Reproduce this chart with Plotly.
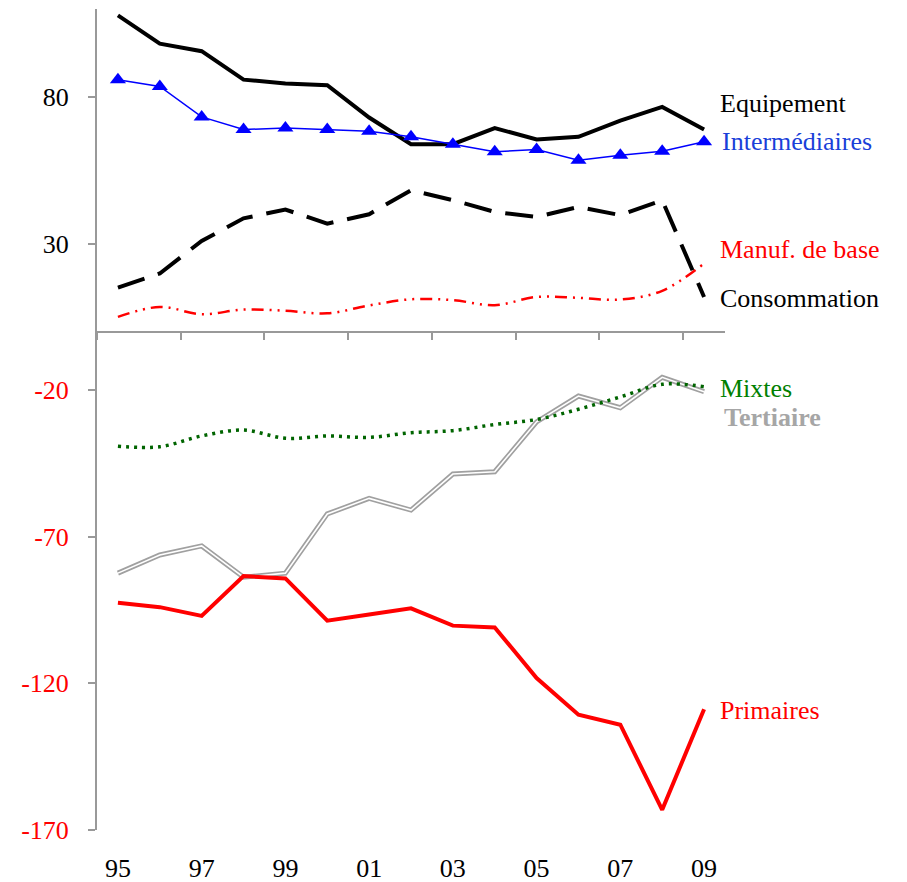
import plotly.graph_objects as go

years = list(range(1995, 2010))
year_labels = ["95", "97", "99", "01", "03", "05", "07", "09"]

equipement = [107.8, 98.2, 95.6, 85.9, 84.6, 84.0, 73.0, 63.9, 63.9, 69.4, 65.5, 66.4, 71.9, 76.6, 68.9]
intermediaires = [85.9, 83.6, 73.2, 68.9, 69.4, 68.9, 68.3, 66.4, 63.9, 61.3, 62.1, 58.4, 60.1, 61.5, 64.7]
consommation = [15.0, 19.8, 30.9, 38.6, 41.6, 36.8, 40.0, 48.2, 44.8, 40.8, 39.1, 42.5, 39.7, 44.8, 11.8]
manuf_base = [5.0, 8.4, 5.9, 7.5, 7.1, 6.2, 8.9, 11.0, 10.7, 9.0, 11.8, 11.5, 10.9, 13.9, 23.2]
mixtes = [-39.1, -39.3, -35.6, -33.6, -36.4, -35.6, -36.1, -34.5, -33.8, -31.7, -30.0, -26.5, -22.3, -18.0, -18.8]
tertiaire = [-82.4, -76.2, -73.1, -83.8, -82.4, -62.2, -56.9, -60.9, -48.6, -47.8, -30.8, -22.0, -26.0, -15.6, -20.5]
primaires = [-92.5, -94.0, -97.0, -83.4, -84.2, -98.6, -96.5, -94.4, -100.3, -100.9, -118.2, -130.7, -134.1, -163.1, -128.8]

y_ticks = [80, 30, -20, -70, -120, -170]
y_tick_colors = ["black", "black", "red", "red", "red", "red"]

Y_MIN, Y_MAX = -170, 110
FONT = "Liberation Serif, Times New Roman, serif"

W, H = 907, 882
# plot area in page pixels
L, R, T, B = 97, 725, 9, 830

fig = go.Figure()

def add_line(y, color, width, dash="solid", shape="linear"):
    fig.add_trace(go.Scatter(x=years, y=y, mode="lines", line=dict(color=color, width=width, dash=dash, shape=shape),
                             hoverinfo="skip", showlegend=False))

# tertiaire: double line (gray then white on top)
add_line(tertiaire, "#a0a0a0", 5)
add_line(tertiaire, "white", 1.6)
add_line(primaires, "#ff0000", 4)
add_line(mixtes, "#006400", 3.5, dash="3px,5px", shape="spline")
add_line(manuf_base, "#ff0000", 2.5, dash="12px,6px,2px,6px,2px,6px", shape="spline")
add_line(consommation, "black", 4, dash="28px,14px")
add_line(equipement, "black", 4)
fig.add_trace(go.Scatter(x=years, y=intermediaires, mode="lines+markers",
                         line=dict(color="#0000ff", width=1.5),
                         marker=dict(symbol="triangle-up", size=14, color="#0000ff"),
                         hoverinfo="skip", showlegend=False))

# invisible trace so the zero-line axis is drawn
fig.add_trace(go.Scatter(x=[years[0]], y=[0], xaxis="x2", mode="markers", marker=dict(opacity=0),
                         hoverinfo="skip", showlegend=False))

labels = [
    ("Equipement", 718, 104, "black"),
    ("Intermédiaires", 720, 141, "#1a3fd9"),
    ("Manuf. de base", 718, 250, "#ff0000"),
    ("Consommation", 718, 298, "black"),
    ("Mixtes", 718, 388, "#008000"),
    ("<b>Tertiaire</b>", 722, 417, "#a6a6a6"),
    ("Primaires", 718, 710, "#ff0000"),
]
for text, xpix, ypix, color in labels:
    fig.add_annotation(x=(xpix - L) / (R - L), y=(B - ypix) / (B - T), xref="x domain", yref="y domain",
                       text=text, showarrow=False, xanchor="left", yanchor="middle",
                       font=dict(family=FONT, size=26, color=color))

fig.update_layout(
    width=W, height=H,
    margin=dict(l=L, r=W - R, t=T, b=H - B, autoexpand=False),
    plot_bgcolor="white", paper_bgcolor="white",
    font=dict(family=FONT, size=26, color="black"),
    xaxis=dict(range=[1994.5, 2009.5], tickmode="array", tickvals=years[::2], ticktext=year_labels,
               showline=False, showgrid=False, zeroline=False, ticks="", ticklabelstandoff=20,
               tickfont=dict(size=26, color="black"), automargin=False),
    xaxis2=dict(range=[1994.5, 2009.5], overlaying="x", anchor="free",
                position=(0 - Y_MIN) / (Y_MAX - Y_MIN), side="bottom",
                showline=True, linecolor="#999999", linewidth=2,
                tickmode="array", tickvals=[1994.5 + 2 * i for i in range(8)], ticks="outside",
                ticklen=7, tickwidth=2, tickcolor="#999999", showticklabels=False, showgrid=False,
                zeroline=False, automargin=False),
    yaxis=dict(range=[Y_MIN, Y_MAX], tickmode="array", tickvals=y_ticks,
               ticktext=[f"<span style='color:{c}'>{v}</span>" for v, c in zip(y_ticks, y_tick_colors)],
               showline=True, linecolor="#999999", linewidth=2, ticks="outside", ticklen=7, tickwidth=2,
               tickcolor="#999999", showgrid=False, zeroline=False, ticklabelstandoff=14,
               tickfont=dict(size=26), automargin=False),
    dragmode=False, hovermode=False,
)

# drop the default 8px page margin so the figure fills the window
fig.write_html("out.html", config={"displayModeBar": False},
               post_script="document.body.style.margin='0px'; document.body.style.overflow='hidden';")
